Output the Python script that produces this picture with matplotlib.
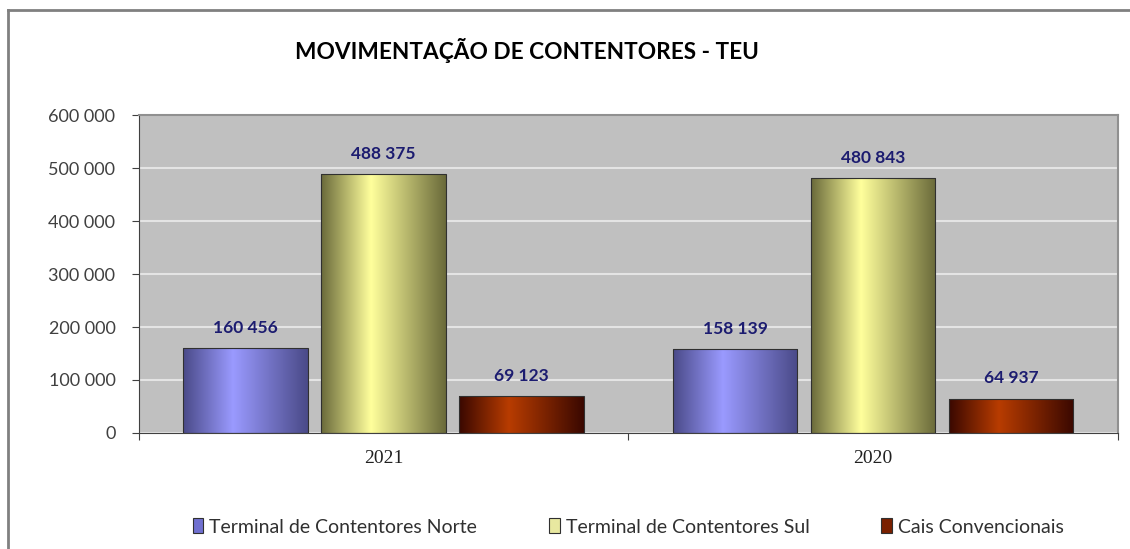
import numpy as np
import matplotlib.pyplot as plt
from matplotlib.colors import LinearSegmentedColormap
from matplotlib.patches import Patch
from matplotlib.lines import Line2D
from matplotlib.ticker import FuncFormatter, FixedLocator

years = ['2021', '2020']
series = ['Terminal de Contentores Norte', 'Terminal de Contentores Sul', 'Cais Convencionais']
norte = [160456, 158139]
sul = [488375, 480843]
cais = [69123, 64937]

# edge / highlight colours for the cylinder-ish shading
shades = [('#4a4a88', '#9a9aff'), ('#6a6a3a', '#ffff9c'), ('#3a0800', '#b83c00')]
legend_cols = ['#7070d0', '#e8e8a0', '#7a2000']

plt.rcParams['font.family'] = ['Lato', 'DejaVu Sans']

fig = plt.figure(figsize=(11.30, 5.49), dpi=100)
ax = fig.add_axes([0.123, 0.2113, 0.866, 0.5792])
ax.set_facecolor('#c0c0c0')

x = np.arange(len(years))
w = 0.255
step = 0.282
grad = np.linspace(0, 1, 256).reshape(1, -1)
for i, vals in enumerate([norte, sul, cais]):
    dark, light = shades[i]
    cmap = LinearSegmentedColormap.from_list('s%d' % i, [(0, dark), (0.4, light), (1, dark)])
    bars = ax.bar(x + (i - 1) * step, vals, w, color='none', edgecolor='#303030',
                  linewidth=0.8, zorder=3)
    for b, v in zip(bars, vals):
        x0, x1 = b.get_x(), b.get_x() + b.get_width()
        im = ax.imshow(grad, cmap=cmap, aspect='auto', extent=(x0, x1, 0, v), zorder=2)
        im.set_clip_path(b)
        ax.annotate(format(v, ',').replace(',', ' '), (b.get_x() + b.get_width() / 2, v),
                    xytext=(0, 11), textcoords='offset points', ha='center', va='baseline',
                    fontsize=12.5, fontweight='bold', color='#1c1c70')

ax.set_xlim(-0.5, 1.5)
ax.set_ylim(0, 600000)
ax.yaxis.set_major_locator(FixedLocator(range(0, 600001, 100000)))
ax.yaxis.set_major_formatter(FuncFormatter(lambda v, p: format(int(v), ',').replace(',', ' ')))
ax.grid(axis='y', color='#e4e4e4', linewidth=1.5, zorder=1)
ax.set_axisbelow(True)

ax.set_xticks([-0.5, 0.5, 1.5])
ax.set_xticklabels([])
ax.set_xticks(x, minor=True)
ax.set_xticklabels(years, minor=True, family='Liberation Serif', fontsize=14, color='#202020')
ax.tick_params(axis='x', which='minor', length=0, pad=12)
ax.tick_params(axis='x', which='major', length=5, color='#404040', direction='out')
ax.tick_params(axis='y', length=5, color='#404040', labelsize=13, labelcolor='#404040', pad=12)

for s in ['top', 'right']:
    ax.spines[s].set_color('#909090')
    ax.spines[s].set_linewidth(1.5)
for s in ['left', 'bottom']:
    ax.spines[s].set_color('#404040')

fig.text(0.466, 0.908, 'MOVIMENTAÇÃO DE CONTENTORES - TEU', ha='center', va='center',
         fontsize=16.3, fontweight='bold', color='#000000')

handles = [Patch(facecolor=c, edgecolor='#303030', linewidth=0.8) for c in legend_cols]
fig.legend(handles, series, loc='center', bbox_to_anchor=(0.556, 0.04), ncol=3, frameon=False,
           fontsize=14, labelcolor='#303030', handlelength=0.55, handleheight=0.8,
           handletextpad=0.3, columnspacing=3.7)

# chart-area border
fig.add_artist(Line2D([8 / 1130, 1], [1 - 10 / 549] * 2, color='#808080', lw=2))
fig.add_artist(Line2D([8 / 1130] * 2, [0, 1 - 10 / 549], color='#808080', lw=2))

fig.savefig('out.png', dpi=100)
